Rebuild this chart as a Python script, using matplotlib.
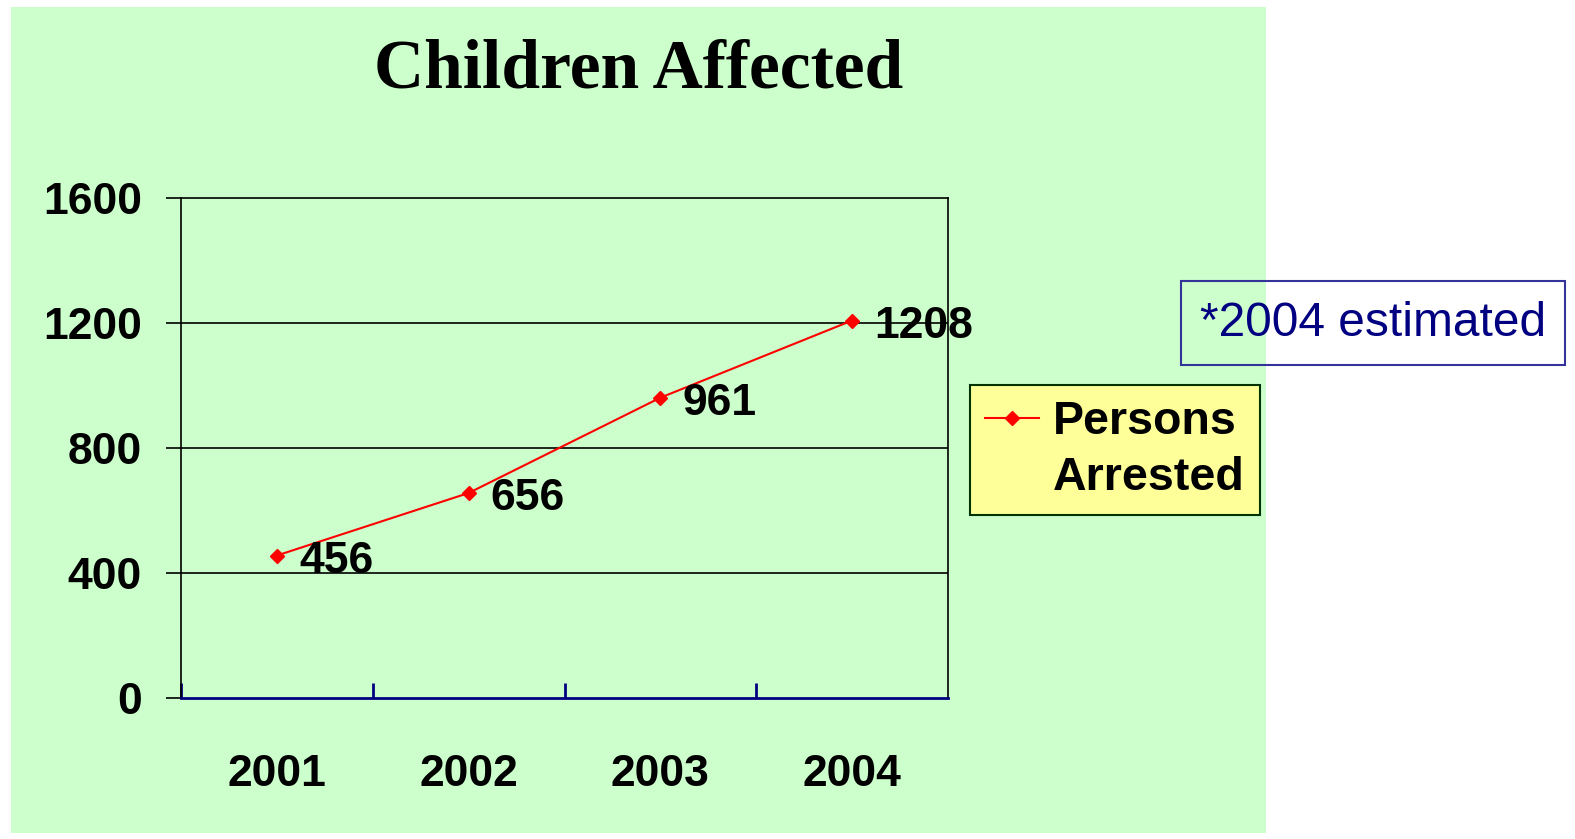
import matplotlib.pyplot as plt
from matplotlib.patches import Rectangle
from matplotlib.lines import Line2D

# data
years = ["2001", "2002", "2003", "2004"]
arrested = [456, 656, 961, 1208]
y_ticks = [0, 400, 800, 1200, 1600]

W, H = 1575, 839
GREEN = "#CCFFCC"
YELLOW = "#FFFF99"
NAVY = "#000080"

plt.rcParams['font.family'] = ['Liberation Sans', 'DejaVu Sans']

fig = plt.figure(figsize=(W / 100, H / 100), dpi=100, facecolor="white")

# green slide background
fig.patches.append(Rectangle((11 / W, 1 - 833 / H), (1266 - 11) / W, (833 - 7) / H,
                             transform=fig.transFigure, facecolor=GREEN,
                             edgecolor="none", zorder=-5))

ax = fig.add_axes([181 / W, 1 - 698 / H, (948 - 181) / W, 500 / H])
ax.set_zorder(2)
ax.set_facecolor("none")

x = list(range(len(years)))
line, = ax.plot(x, arrested, color="red", lw=1.5, marker="D", markersize=7,
                zorder=3)

for xi, v in zip(x, arrested):
    ax.annotate(str(v), (xi, v), xytext=(16, -4), textcoords="offset points",
                fontsize=32, fontweight="bold", va="center", ha="left", zorder=4)

ax.set_xlim(-0.5, len(years) - 0.5)
ax.set_ylim(0, 1600)
ax.set_yticks(y_ticks)
ax.set_yticklabels([str(t) for t in y_ticks], fontsize=32, fontweight="bold")
ax.tick_params(axis="y", direction="out", length=11, width=1.2, color="black", pad=17)

# category boundaries as major ticks, labels on minor ticks
ax.set_xticks([i + 0.5 for i in x[:-1]] + [-0.5])
ax.set_xticklabels([])
ax.tick_params(axis="x", which="major", direction="in", length=11, width=2, color=NAVY)
ax.set_xticks(x, minor=True)
ax.set_xticklabels(years, minor=True, fontsize=32, fontweight="bold")
ax.tick_params(axis="x", which="minor", length=0, pad=40)

for yv in [400, 800, 1200]:
    ax.axhline(yv, color="black", lw=1.2, zorder=1)

for s in ["left", "top", "right"]:
    ax.spines[s].set_color("black")
    ax.spines[s].set_linewidth(1.2)
ax.spines["bottom"].set_color(NAVY)
ax.spines["bottom"].set_linewidth(2)

fig.text(639 / W, 1 - 70 / H, "Children Affected", ha="center", va="center",
         fontsize=50, fontweight="bold", family=["Liberation Serif", "DejaVu Serif"])

# legend: handle sits next to the first line of the two-line label
blank = Line2D([], [], color="none")
leg = ax.legend(handles=[line, blank], labels=["Persons", "Arrested"], loc="upper left",
                bbox_to_anchor=(970 / W, 1 - 385 / H), bbox_transform=fig.transFigure,
                borderaxespad=0, fancybox=False, framealpha=1, facecolor=YELLOW,
                edgecolor="#003300", prop={"size": 33.5, "weight": "bold"},
                handlelength=1.15, handletextpad=0.3, borderpad=0.33, labelspacing=0.25)
leg.get_frame().set_linewidth(1.5)

fig.text(1200 / W, 1 - 323 / H, "*2004 estimated", ha="left", va="center",
         fontsize=34.5, color=NAVY,
         bbox=dict(boxstyle="square,pad=0.4", facecolor="none", edgecolor="#333399", lw=1.5))

fig.savefig("out.png", dpi=100)
